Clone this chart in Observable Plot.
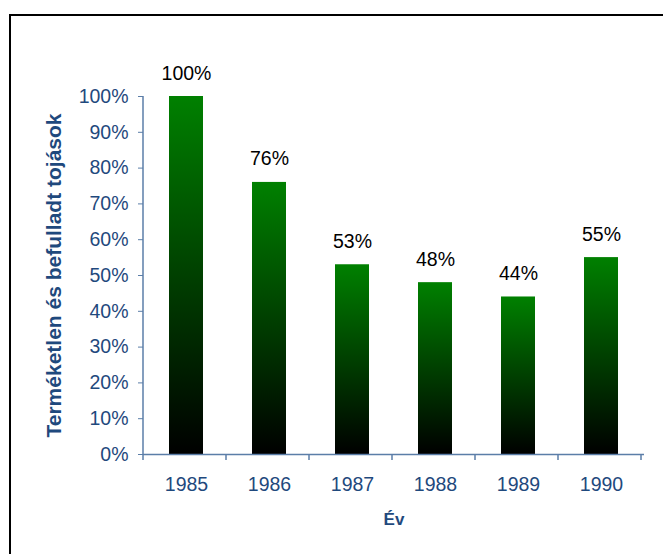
<!DOCTYPE html>
<html>
<head>
<meta charset="utf-8">
<script src="https://cdn.jsdelivr.net/npm/d3@7"></script>
<script src="https://cdn.jsdelivr.net/npm/@observablehq/plot@0.6"></script>
<style>
  body { margin: 0; background: #fff; }
  #chart svg { display: block; }
</style>
</head>
<body>
<div id="chart"></div>
<script>
const years = ["1985", "1986", "1987", "1988", "1989", "1990"];
const values = [1.00, 0.76, 0.53, 0.48, 0.44, 0.55];
const yTicks = [0, 0.1, 0.2, 0.3, 0.4, 0.5, 0.6, 0.7, 0.8, 0.9, 1.0];
const yLabel = "Terméketlen és befulladt tojások";
const xLabel = "Év";

const data = years.map((year, i) => ({ year, value: values[i] }));

const axisColor = "#5b7ea8";
const textColor = "#1F497D";

const plot = Plot.plot({
  width: 663,
  height: 554,
  marginLeft: 143,
  marginRight: 19,
  marginTop: 96,
  marginBottom: 100,
  style: { fontFamily: "'Liberation Sans', Arial, sans-serif", fontSize: "19.5px", color: textColor, background: "white" },
  x: { domain: years, paddingInner: 0.59, paddingOuter: 0.295, label: null },
  y: { domain: [0, 1], label: null },
  marks: [
    Plot.barY(data, { x: "year", y: "value", fill: "url(#barGrad)" }),
    Plot.text(data, { x: "year", y: "value", text: d => Math.round(d.value * 100) + "%", lineAnchor: "bottom", dy: -17, fill: "black", fontSize: 19.5 }),
    Plot.axisY({ ticks: yTicks, tickFormat: d => Math.round(d * 100) + "%", tickSize: 5, tickPadding: 10, stroke: axisColor, fill: textColor, fontSize: 19.5, label: null }),
    Plot.axisX({ tickSize: 0, tickPadding: 23, fill: textColor, fontSize: 19.5, label: null }),
    Plot.ruleY([0], { stroke: axisColor, strokeWidth: 1.5 }),
    Plot.text([yLabel], { frameAnchor: "left", textAnchor: "middle", lineAnchor: "middle", dx: -89, rotate: -90, text: d => d, fontWeight: "bold", fontSize: 21, fill: textColor }),
    Plot.text([xLabel], { frameAnchor: "bottom", lineAnchor: "middle", dy: 65, text: d => d, fontWeight: "bold", fontSize: 17, fill: textColor })
  ]
});

const svg = d3.select(plot);
// gradient definition
const defs = svg.insert("defs", ":first-child");
const grad = defs.append("linearGradient").attr("id", "barGrad").attr("x1", 0).attr("y1", 0).attr("x2", 0).attr("y2", 1);
grad.append("stop").attr("offset", "0%").attr("stop-color", "#008000");
grad.append("stop").attr("offset", "100%").attr("stop-color", "#000000");

// y axis line and category boundary ticks
const xs = plot.scale("x");
const ys = plot.scale("y");
const y0 = ys.apply(0), y1 = ys.apply(1);
const step = xs.step;
const startX = xs.range[0];
svg.append("line").attr("x1", startX).attr("x2", startX).attr("y1", y1).attr("y2", y0).attr("stroke", axisColor).attr("stroke-width", 1.5);
const boundaries = d3.range(years.length + 1).map(i => startX + i * step);
svg.append("g").selectAll("line").data(boundaries).join("line")
  .attr("x1", d => d).attr("x2", d => d).attr("y1", y0).attr("y2", y0 + 6)
  .attr("stroke", axisColor).attr("stroke-width", 1.5);
// outer frame
svg.append("rect").attr("x", 10).attr("y", 15).attr("width", 700).attr("height", 600)
  .attr("fill", "none").attr("stroke", "black").attr("stroke-width", 2);

document.getElementById("chart").append(plot);
</script>
</body>
</html>
